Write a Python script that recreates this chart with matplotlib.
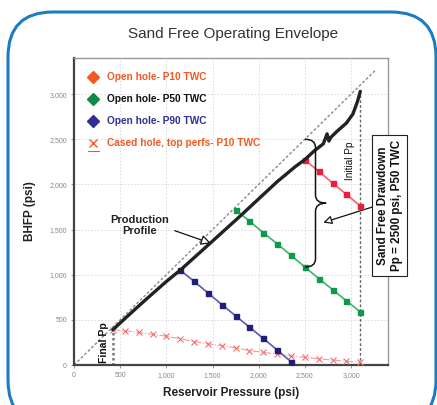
import matplotlib
matplotlib.use("Agg")
import matplotlib.pyplot as plt
from matplotlib.patches import FancyBboxPatch, PathPatch
from matplotlib.path import Path
from matplotlib.transforms import IdentityTransform

plt.rcParams['font.family'] = ['Liberation Sans', 'DejaVu Sans']

# ---------------- data ----------------
black_x = [420, 600, 800, 1000, 1150, 1400, 1600, 1800, 2000, 2200, 2400, 2500,
           2600, 2700, 2740, 2760, 2780, 2850, 2950, 3020, 3070, 3100]
black_y = [390, 560, 745, 925, 1050, 1280, 1465, 1650, 1840, 2030, 2200, 2275,
           2370, 2450, 2560, 2480, 2520, 2590, 2680, 2780, 2920, 3030]

p10_x = [2500, 2650, 2800, 2950, 3100]
p10_y = [2270, 2145, 2015, 1890, 1760]

p50_x = [1750, 1900, 2050, 2200, 2350, 2500, 2650, 2800, 2950, 3100]
p50_y = [1720, 1593, 1465, 1343, 1214, 1085, 957, 835, 710, 588]

p90_x = [1150, 1300, 1450, 1600, 1750, 1900, 2050, 2200, 2350]
p90_y = [1050, 927, 798, 670, 544, 419, 294, 166, 36]

cased_x = [420, 550, 700, 850, 1000, 1150, 1300, 1450, 1600, 1750, 1900, 2050,
           2200, 2350, 2500, 2650, 2800, 2950, 3100]
cased_y = [390, 380, 360, 340, 318, 290, 260, 235, 215, 190, 160, 140,
           120, 100, 85, 68, 55, 40, 30]

diag = [0, 3270]
final_pp = 420
initial_pp = 3100
final_bhfp = 390
initial_bhfp = 3030

ticks = [0, 500, 1000, 1500, 2000, 2500, 3000]
tick_labels = ["0", "500", "1,000", "1,500", "2,000", "2,500", "3,000"]

legend_labels = ["Open hole- P10 TWC", "Open hole- P50 TWC",
                 "Open hole- P90 TWC", "Cased hole, top perfs- P10 TWC"]

# ---------------- figure ----------------
W, H = 437, 405
fig = plt.figure(figsize=(W / 100, H / 100), dpi=100)
fig.patch.set_facecolor('white')

# rounded blue frame (pixel coordinates)
frame = FancyBboxPatch((8, -20), 428, H - 12 + 20,
                       boxstyle="round,pad=0,rounding_size=45",
                       transform=IdentityTransform(), fill=False,
                       edgecolor='#1c7cc2', linewidth=2.2, clip_on=False)
fig.patches.append(frame)

L, R, T, B = 74, 388, 58, 365
ax = fig.add_axes([L / W, 1 - B / H, (R - L) / W, (B - T) / H])
ax.set_xlim(0, 3400)
ax.set_ylim(0, 3400)

# grid
ax.set_xticks(ticks)
ax.set_yticks(ticks)
ax.set_xticklabels(tick_labels)
ax.set_yticklabels(tick_labels)
ax.grid(True, color='#d8d8d8', linestyle=(0, (2, 2)), linewidth=0.6)
ax.set_axisbelow(True)
ax.tick_params(axis='both', labelsize=5, labelcolor='#888888', color='#888888',
               length=2, width=0.6, direction='out', pad=3)

for s in ['left', 'bottom']:
    ax.spines[s].set_color('#444444')
    ax.spines[s].set_linewidth(1.6)
for s in ['top', 'right']:
    ax.spines[s].set_color('#999999')
    ax.spines[s].set_linewidth(1.0)

# diagonal 1:1 line
ax.plot(diag, diag, color='#888888', linestyle=(0, (2, 1.5)), linewidth=1.0, zorder=2)

# vertical Pp lines
ax.plot([final_pp, final_pp], [0, final_bhfp], color='#777777',
        linestyle=(0, (1, 1)), linewidth=1.8, zorder=2)
ax.plot([initial_pp, initial_pp], [0, initial_bhfp], color='#666666',
        linestyle=(0, (2, 1.5)), linewidth=1.0, zorder=2)

# cased hole
ax.plot(cased_x, cased_y, color='#f59a9a', linestyle='-.', linewidth=0.8,
        marker='x', markersize=4, markeredgecolor='#f07070', markeredgewidth=0.8, zorder=3)

# P90 blue
ax.plot(p90_x, p90_y, color='#5a5aae', linewidth=1.2, marker='s', markersize=3.6,
        markerfacecolor='#1f1f78', markeredgecolor='#1f1f78', zorder=4)
# P50 green
ax.plot(p50_x, p50_y, color='#3cb371', linewidth=1.2, marker='s', markersize=3.6,
        markerfacecolor='#0f9a4a', markeredgecolor='#0f9a4a', zorder=4)
# P10 red
ax.plot(p10_x, p10_y, color='#f4606e', linewidth=1.2, marker='s', markersize=3.6,
        markerfacecolor='#ee1c3a', markeredgecolor='#ee1c3a', zorder=4)

# production profile
ax.plot(black_x, black_y, color='#222222', linewidth=2.4, solid_capstyle='round',
        solid_joinstyle='round', zorder=5)

# curly brace
x0, w = 2500, 230
ytop, ybot = 2500, 1085
ymid = (ytop + ybot) / 2
r = 90
xm = x0 + w * 0.5
verts = [(x0, ytop), (xm, ytop), (xm, ytop - r),
         (xm, ymid + r),
         (xm, ymid), (x0 + w, ymid),
         (xm, ymid), (xm, ymid - r),
         (xm, ybot + r),
         (xm, ybot), (x0, ybot)]
codes = [Path.MOVETO, Path.CURVE3, Path.CURVE3,
         Path.LINETO,
         Path.CURVE3, Path.CURVE3,
         Path.CURVE3, Path.CURVE3,
         Path.LINETO,
         Path.CURVE3, Path.CURVE3]
ax.add_patch(PathPatch(Path(verts, codes), fill=False, edgecolor='#111111',
                       linewidth=1.1, zorder=6))

# annotations
ax.text(710, 1545, "Production\nProfile", ha='center', va='center',
        fontsize=8, fontweight='bold', color='#222222', linespacing=1.15)
ax.annotate("", xy=(1484, 1347), xytext=(1090, 1488),
            arrowprops=dict(arrowstyle='-|>,head_length=0.6,head_width=0.3',
                            facecolor='white', edgecolor='#111111', linewidth=0.9,
                            shrinkA=0, shrinkB=0))

ax.text(330, 20, "Final Pp", rotation=90, ha='center', va='bottom',
        fontsize=7.5, fontweight='bold', color='#111111')
ax.text(2990, 2263, "Initial Pp", rotation=90, ha='center', va='center',
        fontsize=7.2, color='#111111')

ax.annotate("Sand Free Drawdown\nPp = 2500 psi, P50 TWC", xy=(2700, 1578),
            xytext=(3420, 1766), rotation=90, ha='center', va='center',
            fontsize=8.4, fontweight='bold', color='#111111', annotation_clip=False,
            bbox=dict(boxstyle='square,pad=0.4', facecolor='white',
                      edgecolor='#222222', linewidth=0.8),
            arrowprops=dict(arrowstyle='-|>,head_length=0.6,head_width=0.3',
                            facecolor='white', edgecolor='#111111', linewidth=0.9,
                            shrinkA=0, shrinkB=0, relpos=(0, 0.5)))

# legend (manual, coloured text)
leg_marker = ['D', 'D', 'D', 'x']
leg_mcolor = ['#f15a24', '#0f8a4a', '#2e3192', '#f15a24']
leg_tcolor = ['#f15a24', '#111111', '#2e3192', '#f15a24']
leg_y = [0.938, 0.866, 0.795, 0.723]
for lab, m, mc, tc, yy in zip(legend_labels, leg_marker, leg_mcolor, leg_tcolor, leg_y):
    ax.plot([0.062], [yy], marker=m, markersize=6 if m == 'D' else 5.5,
            color=mc, markeredgewidth=1.0, transform=ax.transAxes,
            clip_on=False, linestyle='none', zorder=7)
    ax.text(0.105, yy, lab, transform=ax.transAxes, ha='left', va='center',
            fontsize=7.3, fontweight='bold', color=tc, zorder=7)
ax.plot([0.045, 0.08], [leg_y[3] - 0.025, leg_y[3] - 0.025], color='#f15a24',
        linewidth=0.8, transform=ax.transAxes, clip_on=False, zorder=7)

ax.set_xlabel("Reservoir Pressure (psi)", fontsize=8.5, fontweight='bold',
              color='#222222', labelpad=6)
ax.set_ylabel("BHFP (psi)", fontsize=8.5, fontweight='bold', color='#222222',
              labelpad=10)

fig.text(233 / W, 1 - 34 / H, "Sand Free Operating Envelope", ha='center',
         va='center', fontsize=11, color='#333333')

fig.savefig("out.png", dpi=100)
